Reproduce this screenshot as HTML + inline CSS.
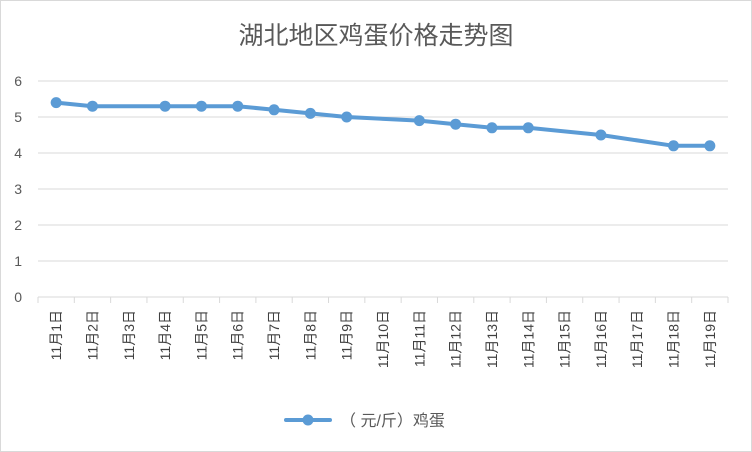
<!DOCTYPE html>
<html><head><meta charset="utf-8">
<style>
html,body{margin:0;padding:0;background:#fff;}
svg{display:block;font-family:"Liberation Sans","Noto Sans CJK SC",sans-serif;}
</style></head>
<body>
<svg id="chart" width="752" height="452" viewBox="0 0 752 452">
  <rect x="0.5" y="0.5" width="751" height="451" fill="#fff" stroke="#d9d9d9"/>
  <text x="376" y="44" text-anchor="middle" font-size="25" fill="#595959">湖北地区鸡蛋价格走势图</text>
  <g id="grid"></g>
  <g id="xaxis"></g>
  <g id="series"></g>
  <g>
    <line x1="286" y1="420" x2="330" y2="420" stroke="#5b9bd5" stroke-width="4" stroke-linecap="round"/>
    <circle cx="308" cy="420" r="5.5" fill="#5b9bd5"/>
    <text x="340" y="426" font-size="16" fill="#595959">（ 元/斤）鸡蛋</text>
  </g>
</svg>
<script>
const categories = ["11月1日","11月2日","11月3日","11月4日","11月5日","11月6日","11月7日","11月8日","11月9日","11月10日","11月11日","11月12日","11月13日","11月14日","11月15日","11月16日","11月17日","11月18日","11月19日"];
const eggPrices = [5.4,5.3,null,5.3,5.3,5.3,5.2,5.1,5.0,null,4.9,4.8,4.7,4.7,null,4.5,null,4.2,4.2];
const yTicks = [0,1,2,3,4,5,6];

const NS = "http://www.w3.org/2000/svg";
const plotLeft = 38, plotRight = 728, plotTop = 81, plotBottom = 297, yMax = 6;
const bw = (plotRight - plotLeft) / categories.length;
function xScale(i){ return plotLeft + bw * (i + 0.5); }
function yScale(v){ return plotBottom - (v / yMax) * (plotBottom - plotTop); }
function mk(tag, attrs, parent){
  const e = document.createElementNS(NS, tag);
  for (const k in attrs) e.setAttribute(k, attrs[k]);
  parent.appendChild(e); return e;
}
const grid = document.getElementById('grid');
yTicks.forEach(t => {
  const y = yScale(t);
  const l = mk('line', {x1:plotLeft, x2:plotRight, y1:y, y2:y, stroke:'#d9d9d9', 'stroke-width':1}, grid);
  
  
  const tx = mk('text', {x:22, y:y+5, 'text-anchor':'end', 'font-size':14, fill:'#595959'}, grid);
  tx.textContent = t;
  
  
});
const xa = document.getElementById('xaxis');
for (let i = 0; i <= categories.length; i++) {
  const x = plotLeft + bw * i;
  const tk = mk('line', {x1:x, x2:x, y1:plotBottom, y2:plotBottom+6, stroke:'#d9d9d9'}, xa);
  
  
}
categories.forEach((c, i) => {
  const x = xScale(i) + 5;
  const t = mk('text', {x:x, y:310, 'text-anchor':'end', 'font-size':14, fill:'#404040', transform:`rotate(-90 ${x} 310)`}, xa);
  t.textContent = c;
  
  
});
const s = document.getElementById('series');
const pts = [];
eggPrices.forEach((v, i) => { if (v !== null) pts.push([xScale(i), yScale(v)]); });
const path = mk('polyline', {points: pts.map(p => p.join(',')).join(' '), fill:'none', stroke:'#5b9bd5', 'stroke-width':4, 'stroke-linejoin':'round', 'stroke-linecap':'round'}, s);


pts.forEach(p => {
  const c = mk('circle', {cx:p[0], cy:p[1], r:5.5, fill:'#5b9bd5'}, s);
  
  
});
</script>
</body></html>
